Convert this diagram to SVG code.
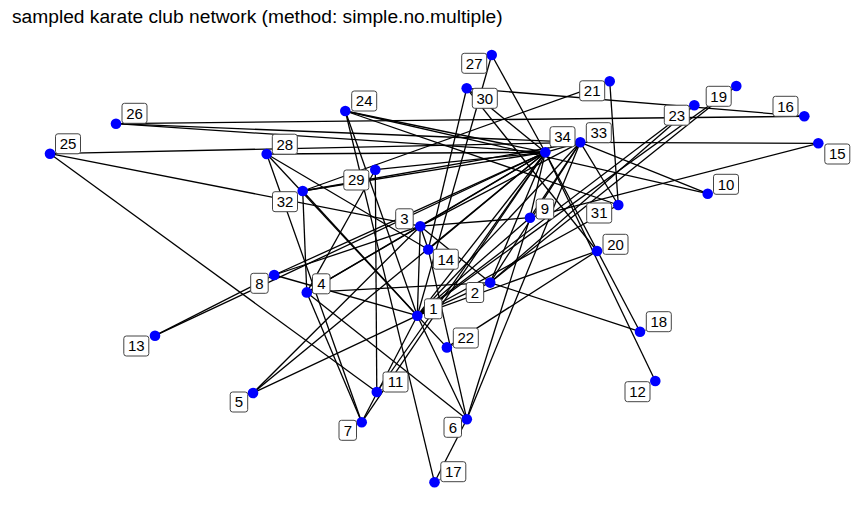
<svg xmlns="http://www.w3.org/2000/svg" width="865" height="516" viewBox="0 0 865 516">
<style>
.e{stroke:#000;stroke-width:1.3;fill:none}
.seg{stroke:#555;stroke-width:1}
.n{fill:#0000FF}
.lb{fill:#fff;stroke:#444;stroke-width:1}
.t{font-family:"Liberation Sans",Arial,sans-serif;font-size:15px;fill:#000;text-anchor:middle}
.title{font-family:"Liberation Sans",Arial,sans-serif;font-size:19.2px;fill:#000}
</style>
<rect width="865" height="516" fill="#fff"/>
<text class="title" x="12" y="23">sampled karate club network (method: simple.no.multiple)</text>
<g id="edges">
<line class="e" x1="655.3" y1="381" x2="545.3" y2="152.3"/>
<line class="e" x1="640" y1="331.7" x2="545.3" y2="152.3"/>
<line class="e" x1="640" y1="331.7" x2="490.2" y2="282.6"/>
<line class="e" x1="155" y1="335.7" x2="274.2" y2="275"/>
<line class="e" x1="155" y1="335.7" x2="545.3" y2="152.3"/>
<line class="e" x1="50" y1="153.7" x2="580.3" y2="142.3"/>
<line class="e" x1="50" y1="153.7" x2="420.3" y2="226.2"/>
<line class="e" x1="50" y1="153.7" x2="376.8" y2="392"/>
<line class="e" x1="116" y1="123.7" x2="804.3" y2="116.3"/>
<line class="e" x1="116" y1="123.7" x2="580.3" y2="142.3"/>
<line class="e" x1="116" y1="123.7" x2="545.3" y2="152.3"/>
<line class="e" x1="804.3" y1="116.3" x2="466.7" y2="88.3"/>
<line class="e" x1="818.3" y1="143.3" x2="530" y2="217.7"/>
<line class="e" x1="818.3" y1="143.3" x2="580.3" y2="142.3"/>
<line class="e" x1="707.7" y1="193.7" x2="580.3" y2="142.3"/>
<line class="e" x1="707.7" y1="193.7" x2="345.3" y2="111"/>
<line class="e" x1="491.7" y1="55" x2="545.3" y2="152.3"/>
<line class="e" x1="491.7" y1="55" x2="417.3" y2="315.7"/>
<line class="e" x1="466.7" y1="88.3" x2="428.3" y2="249.5"/>
<line class="e" x1="466.7" y1="88.3" x2="545.3" y2="152.3"/>
<line class="e" x1="466.7" y1="88.3" x2="597" y2="251"/>
<line class="e" x1="434.5" y1="482.3" x2="466.8" y2="419.3"/>
<line class="e" x1="434.5" y1="482.3" x2="345.3" y2="111"/>
<line class="e" x1="274.2" y1="275" x2="417.3" y2="315.7"/>
<line class="e" x1="609.7" y1="81.3" x2="618.3" y2="205"/>
<line class="e" x1="609.7" y1="81.3" x2="302.7" y2="191"/>
<line class="e" x1="736.3" y1="86" x2="417.3" y2="315.7"/>
<line class="e" x1="736.3" y1="86" x2="490.2" y2="282.6"/>
<line class="e" x1="694.3" y1="105.3" x2="417.3" y2="315.7"/>
<line class="e" x1="694.3" y1="105.3" x2="490.2" y2="282.6"/>
<line class="e" x1="345.3" y1="111" x2="545.3" y2="152.3"/>
<line class="e" x1="345.3" y1="111" x2="618.3" y2="205"/>
<line class="e" x1="345.3" y1="111" x2="417.3" y2="315.7"/>
<line class="e" x1="375.3" y1="169.7" x2="545.3" y2="152.3"/>
<line class="e" x1="375.3" y1="169.7" x2="306.8" y2="292.4"/>
<line class="e" x1="375.3" y1="169.7" x2="376.8" y2="392"/>
<line class="e" x1="597" y1="251" x2="417.3" y2="315.7"/>
<line class="e" x1="597" y1="251" x2="446.9" y2="347.4"/>
<line class="e" x1="446.9" y1="347.4" x2="417.3" y2="315.7"/>
<line class="e" x1="466.8" y1="419.3" x2="417.3" y2="315.7"/>
<line class="e" x1="466.8" y1="419.3" x2="306.8" y2="292.4"/>
<line class="e" x1="466.8" y1="419.3" x2="580.3" y2="142.3"/>
<line class="e" x1="466.8" y1="419.3" x2="530" y2="217.7"/>
<line class="e" x1="466.8" y1="419.3" x2="428.3" y2="249.5"/>
<line class="e" x1="253" y1="393" x2="420.3" y2="226.2"/>
<line class="e" x1="253" y1="393" x2="417.3" y2="315.7"/>
<line class="e" x1="253" y1="393" x2="545.3" y2="152.3"/>
<line class="e" x1="266.7" y1="154" x2="545.3" y2="152.3"/>
<line class="e" x1="266.7" y1="154" x2="417.3" y2="315.7"/>
<line class="e" x1="266.7" y1="154" x2="428.3" y2="249.5"/>
<line class="e" x1="266.7" y1="154" x2="361.7" y2="422.3"/>
<line class="e" x1="302.7" y1="191" x2="417.3" y2="315.7"/>
<line class="e" x1="302.7" y1="191" x2="545.3" y2="152.3"/>
<line class="e" x1="302.7" y1="191" x2="580.3" y2="142.3"/>
<line class="e" x1="302.7" y1="191" x2="306.8" y2="292.4"/>
<line class="e" x1="274.2" y1="275" x2="420.3" y2="226.2"/>
<line class="e" x1="274.2" y1="275" x2="545.3" y2="152.3"/>
<line class="e" x1="306.8" y1="292.4" x2="490.2" y2="282.6"/>
<line class="e" x1="306.8" y1="292.4" x2="361.7" y2="422.3"/>
<line class="e" x1="306.8" y1="292.4" x2="545.3" y2="152.3"/>
<line class="e" x1="306.8" y1="292.4" x2="420.3" y2="226.2"/>
<line class="e" x1="530" y1="217.7" x2="420.3" y2="226.2"/>
<line class="e" x1="530" y1="217.7" x2="545.3" y2="152.3"/>
<line class="e" x1="530" y1="217.7" x2="417.3" y2="315.7"/>
<line class="e" x1="428.3" y1="249.5" x2="545.3" y2="152.3"/>
<line class="e" x1="428.3" y1="249.5" x2="420.3" y2="226.2"/>
<line class="e" x1="417.3" y1="315.7" x2="545.3" y2="152.3"/>
<line class="e" x1="417.3" y1="315.7" x2="580.3" y2="142.3"/>
<line class="e" x1="417.3" y1="315.7" x2="490.2" y2="282.6"/>
<line class="e" x1="417.3" y1="315.7" x2="420.3" y2="226.2"/>
<line class="e" x1="417.3" y1="315.7" x2="618.3" y2="205"/>
<line class="e" x1="490.2" y1="282.6" x2="420.3" y2="226.2"/>
<line class="e" x1="490.2" y1="282.6" x2="580.3" y2="142.3"/>
<line class="e" x1="490.2" y1="282.6" x2="545.3" y2="152.3"/>
<line class="e" x1="420.3" y1="226.2" x2="545.3" y2="152.3"/>
<line class="e" x1="420.3" y1="226.2" x2="580.3" y2="142.3"/>
<line class="e" x1="618.3" y1="205" x2="580.3" y2="142.3"/>
<line class="e" x1="580.3" y1="142.3" x2="545.3" y2="152.3"/>
<line class="e" x1="530" y1="217.7" x2="580.3" y2="142.3"/>
<line class="e" x1="376.8" y1="392" x2="545.3" y2="152.3"/>
<line class="e" x1="361.7" y1="422.3" x2="545.3" y2="152.3"/>
<line class="e" x1="361.7" y1="422.3" x2="417.3" y2="315.7"/>
<line class="seg" x1="434.5" y1="482.3" x2="441" y2="479"/>
<line class="seg" x1="446.9" y1="347.4" x2="453.5" y2="345"/>
<line class="seg" x1="640" y1="331.7" x2="646" y2="330"/>
<line class="seg" x1="376.8" y1="392" x2="383" y2="389"/>
<line class="seg" x1="545.3" y1="152.3" x2="551" y2="146"/>
</g>
<g id="n1"><circle class="n" cx="417.3" cy="315.7" r="5.3"/><rect class="lb" x="424.5" y="298.8" width="17.5" height="20" rx="2.5"/><text class="t" x="433.3" y="314.1">1</text></g>
<g id="n2"><circle class="n" cx="490.2" cy="282.6" r="5.3"/><rect class="lb" x="466.2" y="282.5" width="17.5" height="20" rx="2.5"/><text class="t" x="475" y="297.8">2</text></g>
<g id="n3"><circle class="n" cx="420.3" cy="226.2" r="5.3"/><rect class="lb" x="395.7" y="208.8" width="17.5" height="20" rx="2.5"/><text class="t" x="404.5" y="224.1">3</text></g>
<g id="n4"><circle class="n" cx="306.8" cy="292.4" r="5.3"/><rect class="lb" x="312.5" y="273.8" width="17.5" height="20" rx="2.5"/><text class="t" x="321.3" y="289.1">4</text></g>
<g id="n5"><circle class="n" cx="253" cy="393" r="5.3"/><rect class="lb" x="230.2" y="392" width="17.5" height="20" rx="2.5"/><text class="t" x="239" y="407.3">5</text></g>
<g id="n6"><circle class="n" cx="466.8" cy="419.3" r="5.3"/><rect class="lb" x="444" y="417.3" width="17.5" height="20" rx="2.5"/><text class="t" x="452.8" y="432.6">6</text></g>
<g id="n7"><circle class="n" cx="361.7" cy="422.3" r="5.3"/><rect class="lb" x="339" y="420.3" width="17.5" height="20" rx="2.5"/><text class="t" x="347.8" y="435.6">7</text></g>
<g id="n8"><circle class="n" cx="274.2" cy="275" r="5.3"/><rect class="lb" x="250.7" y="273.3" width="17.5" height="20" rx="2.5"/><text class="t" x="259.5" y="288.6">8</text></g>
<g id="n9"><circle class="n" cx="530" cy="217.7" r="5.3"/><rect class="lb" x="536.2" y="199" width="17.5" height="20" rx="2.5"/><text class="t" x="545" y="214.3">9</text></g>
<g id="n10"><circle class="n" cx="707.7" cy="193.7" r="5.3"/><rect class="lb" x="713.5" y="174.3" width="25" height="20" rx="2.5"/><text class="t" x="726" y="189.6">10</text></g>
<g id="n11"><circle class="n" cx="376.8" cy="392" r="5.3"/><rect class="lb" x="383" y="372" width="25" height="20" rx="2.5"/><text class="t" x="395.5" y="387.3">11</text></g>
<g id="n12"><circle class="n" cx="655.3" cy="381" r="5.3"/><rect class="lb" x="625" y="381.7" width="25" height="20" rx="2.5"/><text class="t" x="637.5" y="397">12</text></g>
<g id="n13"><circle class="n" cx="155" cy="335.7" r="5.3"/><rect class="lb" x="123.8" y="336" width="25" height="20" rx="2.5"/><text class="t" x="136.3" y="351.3">13</text></g>
<g id="n14"><circle class="n" cx="428.3" cy="249.5" r="5.3"/><rect class="lb" x="433.3" y="249.2" width="25" height="20" rx="2.5"/><text class="t" x="445.8" y="264.5">14</text></g>
<g id="n15"><circle class="n" cx="818.3" cy="143.3" r="5.3"/><rect class="lb" x="824.8" y="144" width="25" height="20" rx="2.5"/><text class="t" x="837.3" y="159.3">15</text></g>
<g id="n16"><circle class="n" cx="804.3" cy="116.3" r="5.3"/><rect class="lb" x="773" y="96.3" width="25" height="20" rx="2.5"/><text class="t" x="785.5" y="111.6">16</text></g>
<g id="n17"><circle class="n" cx="434.5" cy="482.3" r="5.3"/><rect class="lb" x="440.8" y="461.7" width="25" height="20" rx="2.5"/><text class="t" x="453.3" y="477">17</text></g>
<g id="n18"><circle class="n" cx="640" cy="331.7" r="5.3"/><rect class="lb" x="646.3" y="311.7" width="25" height="20" rx="2.5"/><text class="t" x="658.8" y="327">18</text></g>
<g id="n19"><circle class="n" cx="736.3" cy="86" r="5.3"/><rect class="lb" x="706.2" y="86.3" width="25" height="20" rx="2.5"/><text class="t" x="718.7" y="101.6">19</text></g>
<g id="n20"><circle class="n" cx="597" cy="251" r="5.3"/><rect class="lb" x="603" y="234.3" width="25" height="20" rx="2.5"/><text class="t" x="615.5" y="249.6">20</text></g>
<g id="n21"><circle class="n" cx="609.7" cy="81.3" r="5.3"/><rect class="lb" x="579.7" y="80.8" width="25" height="20" rx="2.5"/><text class="t" x="592.2" y="96.1">21</text></g>
<g id="n22"><circle class="n" cx="446.9" cy="347.4" r="5.3"/><rect class="lb" x="453.3" y="328" width="25" height="20" rx="2.5"/><text class="t" x="465.8" y="343.3">22</text></g>
<g id="n23"><circle class="n" cx="694.3" cy="105.3" r="5.3"/><rect class="lb" x="664.3" y="105.2" width="25" height="20" rx="2.5"/><text class="t" x="676.8" y="120.5">23</text></g>
<g id="n24"><circle class="n" cx="345.3" cy="111" r="5.3"/><rect class="lb" x="351.7" y="91" width="25" height="20" rx="2.5"/><text class="t" x="364.2" y="106.3">24</text></g>
<g id="n25"><circle class="n" cx="50" cy="153.7" r="5.3"/><rect class="lb" x="55.5" y="133.8" width="25" height="20" rx="2.5"/><text class="t" x="68" y="149.1">25</text></g>
<g id="n26"><circle class="n" cx="116" cy="123.7" r="5.3"/><rect class="lb" x="122" y="103.3" width="25" height="20" rx="2.5"/><text class="t" x="134.5" y="118.6">26</text></g>
<g id="n27"><circle class="n" cx="491.7" cy="55" r="5.3"/><rect class="lb" x="461.7" y="53.3" width="25" height="20" rx="2.5"/><text class="t" x="474.2" y="68.6">27</text></g>
<g id="n28"><circle class="n" cx="266.7" cy="154" r="5.3"/><rect class="lb" x="272.3" y="134.2" width="25" height="20" rx="2.5"/><text class="t" x="284.8" y="149.5">28</text></g>
<g id="n29"><circle class="n" cx="375.3" cy="169.7" r="5.3"/><rect class="lb" x="343.8" y="170" width="25" height="20" rx="2.5"/><text class="t" x="356.3" y="185.3">29</text></g>
<g id="n30"><circle class="n" cx="466.7" cy="88.3" r="5.3"/><rect class="lb" x="472.3" y="88.3" width="25" height="20" rx="2.5"/><text class="t" x="484.8" y="103.6">30</text></g>
<g id="n31"><circle class="n" cx="618.3" cy="205" r="5.3"/><rect class="lb" x="586.7" y="203" width="25" height="20" rx="2.5"/><text class="t" x="599.2" y="218.3">31</text></g>
<g id="n32"><circle class="n" cx="302.7" cy="191" r="5.3"/><rect class="lb" x="272.5" y="191.7" width="25" height="20" rx="2.5"/><text class="t" x="285" y="207">32</text></g>
<g id="n33"><circle class="n" cx="580.3" cy="142.3" r="5.3"/><rect class="lb" x="586.3" y="122.7" width="25" height="20" rx="2.5"/><text class="t" x="598.8" y="138">33</text></g>
<g id="n34"><circle class="n" cx="545.3" cy="152.3" r="5.3"/><rect class="lb" x="550" y="126.7" width="25" height="20" rx="2.5"/><text class="t" x="562.5" y="142">34</text></g>
</svg>
